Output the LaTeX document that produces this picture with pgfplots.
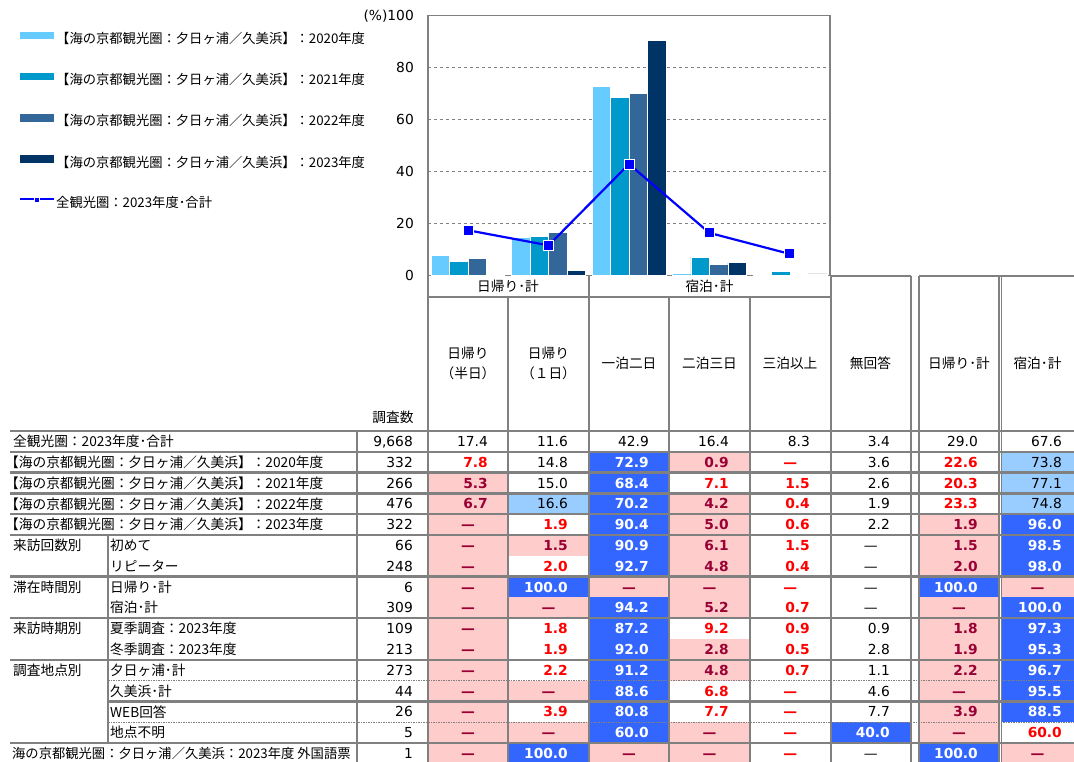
\documentclass[border=0pt]{standalone}
\usepackage{fontspec}
\setmainfont{Noto Sans CJK JP}
\newfontfamily\numf{DejaVu Sans}
\usepackage{pgfplots}
\pgfplotsset{compat=1.18}

\definecolor{c20}{HTML}{66CCFF}
\definecolor{c21}{HTML}{0099CC}
\definecolor{c22}{HTML}{336699}
\definecolor{c23}{HTML}{003366}
\definecolor{lblue}{HTML}{0000FF}
\definecolor{tgray}{HTML}{808080}
\definecolor{tblue}{HTML}{3366FF}
\definecolor{tlblue}{HTML}{99CCFF}
\definecolor{tpink}{HTML}{FFCCCC}
\definecolor{tred}{HTML}{FF0000}
\definecolor{tdred}{HTML}{990033}

\def\fs{\fontsize{13.3bp}{16bp}\selectfont}
\def\ts{\fontsize{13.7bp}{16bp}\selectfont}
\def\ns{\fontsize{13.8bp}{16bp}\selectfont}
\def\dashmark{-}
\def\styN{\def\bg{white}\def\fg{black}\def\ft{\numf\ns}}
\def\styR{\def\bg{white}\def\fg{tred}\def\ft{\numf\bfseries\ns}}
\def\styP{\def\bg{tpink}\def\fg{tdred}\def\ft{\numf\bfseries\ns}}
\def\styB{\def\bg{tblue}\def\fg{white}\def\ft{\numf\bfseries\ns}}
\def\styL{\def\bg{tlblue}\def\fg{black}\def\ft{\numf\ns}}

% one table row: index, sample size, style/value pairs
\newcommand\cellrow[3]{%
  \pgfmathsetmacro\yt{431+20.8*#1}
  \pgfmathsetmacro\yb{\yt+20.8}
  \pgfmathsetmacro\yc{\yt+10.4}
  \node[anchor=east, font=\numf\ns, text height=10bp, text depth=0pt] at (413,\yc) {#2};
  \foreach \s/\v [count=\c] in {#3} {
    \pgfmathsetmacro\xl{{428,508,589,669,750,830.5,919,1001}[\c-1]}
    \pgfmathsetmacro\xr{{508,589,669,750,830.5,911,999,1074}[\c-1]}
    \pgfmathsetmacro\xn{{488,568,649,729,810,890,978,1062}[\c-1]}
    \csname sty\s\endcsname
    \fill[\bg] (\xl,\yt) rectangle (\xr,\yb);
    \ifx\v\dashmark
      \node[text=\fg, font=\ft, text height=10bp, text depth=0pt] at ({(\xl+\xr)/2},\yc) {—};
    \else
      \node[anchor=east, text=\fg, font=\ft, text height=10bp, text depth=0pt] at (\xn,\yc) {\v};
    \fi
  }
}

\pgfplotsset{
  barleg/.style={legend image code/.code={\fill[##1,draw=none] (0bp,0.8bp) rectangle (34bp,8.2bp);}},
  lineleg/.style={legend image code/.code={%
    \draw[lblue, line width=2bp] (0bp,4.5bp) -- (34bp,4.5bp);
    \path[fill=lblue, draw=white, line width=0.8bp] (14.5bp,2bp) rectangle (19.5bp,7bp);}},
}

\begin{document}
\begin{tikzpicture}
\path[use as bounding box] (0,0) rectangle (1074bp,-762bp);

\begin{axis}[
  at={(428bp,-275.5bp)}, anchor=south west,
  width=402bp, height=259.8bp, scale only axis,
  xmin=0.5, xmax=5.5, ymin=0, ymax=100,
  xtick=\empty,
  ytick={0,20,40,60,80,100},
  yticklabels={0,20,40,60,80,(\%)100},
  major tick length=0pt,
  /pgf/number format/assume math mode=true,
  tick label style={font=\numf\ns},
  yticklabel style={inner sep=0pt, xshift=-14bp},
  ymajorgrids,
  grid style={dashed, tgray, line width=1bp},
  axis line style={draw=tgray, line width=1.6bp},
  axis background/.style={fill=white},
  legend style={at={(-1.0174,0.939)}, anchor=north west, draw=none, fill=none,
    inner sep=0pt, row sep=26.5bp, font=\fs,
    nodes={inner sep=0pt, text height=10bp, text depth=3bp},
    /tikz/column sep=1bp},
  legend cell align=left,
]
\addplot[ybar, bar width=18.5bp, bar shift=-27.75bp, fill=c20, draw=white, line width=0.6bp, barleg]
  coordinates {(1,7.8) (2,14.8) (3,72.9) (4,0.9) (5,0)};
\addlegendentry{【海の京都観光圏：夕日ヶ浦／久美浜】：2020年度}
\addplot[ybar, bar width=18.5bp, bar shift=-9.25bp, fill=c21, draw=white, line width=0.6bp, barleg]
  coordinates {(1,5.3) (2,15.0) (3,68.4) (4,7.1) (5,1.5)};
\addlegendentry{【海の京都観光圏：夕日ヶ浦／久美浜】：2021年度}
\addplot[ybar, bar width=18.5bp, bar shift=9.25bp, fill=c22, draw=white, line width=0.6bp, barleg]
  coordinates {(1,6.7) (2,16.6) (3,70.2) (4,4.2) (5,0.4)};
\addlegendentry{【海の京都観光圏：夕日ヶ浦／久美浜】：2022年度}
\addplot[ybar, bar width=18.5bp, bar shift=27.75bp, fill=c23, draw=white, line width=0.6bp, barleg]
  coordinates {(1,0) (2,1.9) (3,90.4) (4,5.0) (5,0.6)};
\addlegendentry{【海の京都観光圏：夕日ヶ浦／久美浜】：2023年度}
\addplot[sharp plot, lblue, line width=2.2bp, mark=square*, mark size=5bp,
  mark options={fill=lblue, draw=white, line width=0.9bp, solid}, lineleg]
  coordinates {(1,17.4) (2,11.6) (3,42.9) (4,16.4) (5,8.3)};
\addlegendentry{全観光圏：2023年度･合計}
\end{axis}

\begin{scope}[x=1bp, y=-1bp, every node/.style={inner sep=0pt, font=\ts}]
\tikzset{tl/.style={draw=tgray, line width=2bp}}

% header texts
\node at (508,286.5) {日帰り･計};
\node at (709.5,286.5) {宿泊･計};
\node at (468,353) {日帰り};
\node at (468,373) {（半日）};
\node at (548.5,353) {日帰り};
\node at (548.5,373) {（１日）};
\node at (629,363) {一泊二日};
\node at (709.5,363) {二泊三日};
\node at (790,363) {三泊以上};
\node at (870.5,363) {無回答};
\node at (959,363) {日帰り･計};
\node at (1037.5,363) {宿泊･計};
\node at (393,417) {調査数};

% data rows
\cellrow{0}{9,668}{N/17.4,N/11.6,N/42.9,N/16.4,N/8.3,N/3.4,N/29.0,N/67.6}
\cellrow{1}{332}{R/7.8,N/14.8,B/72.9,P/0.9,R/-,N/3.6,R/22.6,L/73.8}
\cellrow{2}{266}{P/5.3,N/15.0,B/68.4,R/7.1,R/1.5,N/2.6,R/20.3,L/77.1}
\cellrow{3}{476}{P/6.7,L/16.6,B/70.2,P/4.2,R/0.4,N/1.9,R/23.3,L/74.8}
\cellrow{4}{322}{P/-,R/1.9,B/90.4,P/5.0,R/0.6,N/2.2,P/1.9,B/96.0}
\cellrow{5}{66}{P/-,P/1.5,B/90.9,P/6.1,R/1.5,N/-,P/1.5,B/98.5}
\cellrow{6}{248}{P/-,R/2.0,B/92.7,P/4.8,R/0.4,N/-,P/2.0,B/98.0}
\cellrow{7}{6}{P/-,B/100.0,P/-,P/-,R/-,N/-,B/100.0,P/-}
\cellrow{8}{309}{P/-,P/-,B/94.2,P/5.2,R/0.7,N/-,P/-,B/100.0}
\cellrow{9}{109}{P/-,R/1.8,B/87.2,R/9.2,R/0.9,N/0.9,P/1.8,B/97.3}
\cellrow{10}{213}{P/-,R/1.9,B/92.0,P/2.8,R/0.5,N/2.8,P/1.9,B/95.3}
\cellrow{11}{273}{P/-,R/2.2,B/91.2,P/4.8,R/0.7,N/1.1,P/2.2,B/96.7}
\cellrow{12}{44}{P/-,P/-,B/88.6,R/6.8,R/-,N/4.6,P/-,B/95.5}
\cellrow{13}{26}{P/-,R/3.9,B/80.8,R/7.7,R/-,N/7.7,P/3.9,B/88.5}
\cellrow{14}{5}{P/-,P/-,B/60.0,P/-,R/-,B/40.0,P/-,R/60.0}
\cellrow{15}{1}{P/-,B/100.0,P/-,P/-,R/-,N/-,B/100.0,P/-}

% row labels
\node[anchor=west] at (13,441.4) {全観光圏：2023年度･合計};
\foreach \yr [count=\i] in {2020,2021,2022,2023}
  \node[anchor=west] at (5,{441.4+20.8*\i}) {【海の京都観光圏：夕日ヶ浦／久美浜】：\yr 年度};
\node[anchor=west] at (13,545.4) {来訪回数別};
\node[anchor=west] at (13,587) {滞在時間別};
\node[anchor=west] at (13,628.6) {来訪時期別};
\node[anchor=west] at (13,670.2) {調査地点別};
\foreach \t [count=\i from 5] in {初めて,リピーター,日帰り･計,宿泊･計,夏季調査：2023年度,冬季調査：2023年度,夕日ヶ浦･計,久美浜･計,WEB回答,地点不明}
  \node[anchor=west] at (110,{441.4+20.8*\i}) {\t};
\node[anchor=west, font=\fs] at (12,753.4) {海の京都観光圏：夕日ヶ浦／久美浜：2023年度 外国語票};

% grid lines of the table
\foreach \x/\ya in {357/431,428/275.5,508/297,589/275.5,669/297,750/297,830.5/275.5,911/275.5,919/275.5,998.5/275.5}
  \draw[tl] (\x,\ya) -- (\x,770);
\draw[tl, line width=1.2bp] (1001.5,277) -- (1001.5,770);
\draw[tl] (108,535) -- (108,743);
\draw[tl] (830.5,275.5) -- (911,275.5);
\draw[tl] (919,275.5) -- (1074,275.5);
\draw[tl] (428,297) -- (830.5,297);
\foreach \k in {0,1,2,3,4,5,7,9,11,15}
  \draw[tl, line width=2.5bp] (10,{431+20.8*\k}) -- (1074,{431+20.8*\k});
\draw[tl, line width=2.5bp] (108,{431+20.8*13}) -- (1074,{431+20.8*13});
\foreach \k in {12,14}
  \draw[tgray, line width=1bp, dash pattern=on 1.5bp off 1bp] (108,{431+20.8*\k}) -- (1074,{431+20.8*\k});
\end{scope}
\end{tikzpicture}
\end{document}
